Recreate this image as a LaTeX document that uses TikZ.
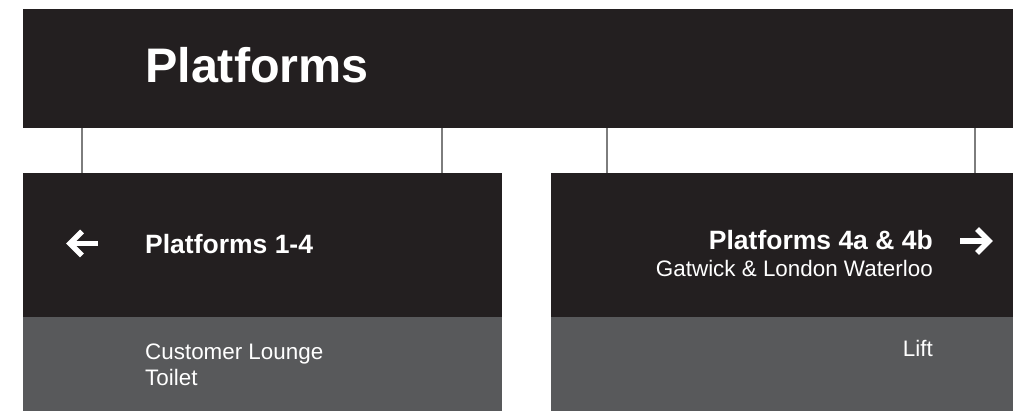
\documentclass[tikz,border=0pt]{standalone}
\usepackage{fontspec}
\setmainfont{Liberation Sans}
\usetikzlibrary{positioning}
\definecolor{signdark}{RGB}{35,31,32}
\definecolor{signgrey}{RGB}{88,89,91}
\definecolor{hanger}{RGB}{125,125,125}
\tikzset{
  board/.style={fill=#1, inner sep=0pt, anchor=north west},
  board/.default=signdark,
  hang/.style={draw=hanger, line width=1.6pt},
  dest/.style={text=white, inner sep=0pt, font=\fontsize{26.5}{30}\selectfont\bfseries},
  legend/.style={text=white, inner sep=0pt, font=\fontsize{22.4}{26}\selectfont},
  pointer/.style={draw=white, line width=5.5pt, miter limit=10},
}

\begin{document}
\begin{tikzpicture}[x=1pt, y=-1pt]
  \useasboundingbox (0,0) rectangle (1013,411);

  % header board
  \node[board, minimum width=990pt, minimum height=119pt] (bar) at (23,9) {};
  \node[text=white, inner sep=0pt, anchor=base west, font=\fontsize{48.5}{56}\selectfont\bfseries] (title) at (145,83) {Platforms};

  % left panel
  \node[board, minimum width=479pt, minimum height=144pt] (lefttop) at (23,173) {};
  \node[board=signgrey, minimum width=479pt, minimum height=94.5pt] (leftfoot) at ([yshift=0.5pt]lefttop.south west) {};
  \node[dest, anchor=base west] (ldest) at (145,254) {Platforms 1-4};
  \node[legend, anchor=base west] (lounge) at (145,360) {Customer Lounge};
  \node[legend, anchor=base west] (toilet) at (145,386) {Toilet};
  \coordinate (larrow) at (70,243.5);
  \draw[pointer] (larrow) ++(12,-12) -- (larrow) -- ++(12,12);
  \draw[pointer] (larrow) ++(1,0) -- ++(27,0);

  % right panel
  \node[board, minimum width=462pt, minimum height=144pt] (righttop) at (551,173) {};
  \node[board=signgrey, minimum width=462pt, minimum height=94.5pt] (rightfoot) at ([yshift=0.5pt]righttop.south west) {};
  \node[dest, anchor=base east] (rdest) at (933,250) {Platforms 4a \& 4b};
  \node[legend, anchor=base east] (rsub) at (933,277) {Gatwick \& London Waterloo};
  \node[legend, anchor=base east] (lift) at (933,357) {Lift};
  \coordinate (rarrow) at (989,241);
  \draw[pointer] (rarrow) ++(-12,-12) -- (rarrow) -- ++(-12,12);
  \draw[pointer] (rarrow) ++(-1,0) -- ++(-28,0);

  % hangers
  \foreach \x/\p in {82/lefttop, 442/lefttop, 607/righttop, 975/righttop}
    \draw[hang] (bar.south -| \x,0) -- (\p.north -| \x,0);
\end{tikzpicture}
\end{document}
